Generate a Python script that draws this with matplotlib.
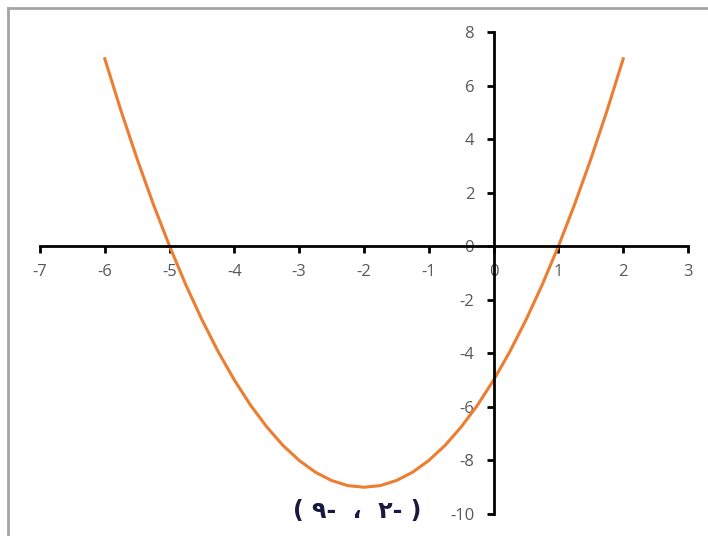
import matplotlib.pyplot as plt
from matplotlib.lines import Line2D

plt.rcParams["axes.unicode_minus"] = False

# نقاط المنحنى المقروءة من الرسم
x_vals = [-6, -5.75, -5.5, -5.25, -5, -4.75, -4.5, -4.25, -4, -3.75, -3.5, -3.25,
          -3, -2.75, -2.5, -2.25, -2, -1.75, -1.5, -1.25, -1, -0.75, -0.5, -0.25,
          0, 0.25, 0.5, 0.75, 1, 1.25, 1.5, 1.75, 2]
y_vals = [7, 5.06, 3.25, 1.56, 0, -1.44, -2.75, -3.94, -5, -5.94, -6.75, -7.44,
          -8, -8.44, -8.75, -8.94, -9, -8.94, -8.75, -8.44, -8, -7.44, -6.75, -5.94,
          -5, -3.94, -2.75, -1.44, 0, 1.56, 3.25, 5.06, 7]
x_ticks = list(range(-7, 4))
y_ticks = list(range(-10, 9, 2))
vertex_label = "( ٩-  ،  ٢- )"

fig = plt.figure(figsize=(7.08, 5.36), dpi=100)
ax = fig.add_axes([40 / 708, 1 - 514 / 536, 648 / 708, 482 / 536])

ax.plot(x_vals, y_vals, color="#ED7D31", lw=2.2)

ax.set_xlim(-7, 3)
ax.set_ylim(-10, 8)
ax.set_xticks(x_ticks)
ax.set_yticks(y_ticks)

# المحاور تمر بنقطة الأصل
ax.spines["left"].set_position(("data", 0))
ax.spines["bottom"].set_position(("data", 0))
ax.spines["right"].set_visible(False)
ax.spines["top"].set_visible(False)
for s in ("left", "bottom"):
    ax.spines[s].set_linewidth(2)
    ax.spines[s].set_color("black")

ax.tick_params(direction="out", length=5, width=2, color="black",
               labelsize=12, labelcolor="#595959")
ax.tick_params(axis="x", pad=8)
ax.tick_params(axis="y", pad=9)
for lab in ax.get_xticklabels() + ax.get_yticklabels():
    lab.set_family("Open Sans")

ax.text(-2.1, -9.9, vertex_label, fontsize=17, fontweight="bold",
        color="#1a1a40", ha="center", va="center", family="DejaVu Sans")

# إطار رمادي جزئي
fig.add_artist(Line2D([8 / 708, 8 / 708], [0, 1 - 8 / 536], color="#a6a6a6", lw=2))
fig.add_artist(Line2D([8 / 708, 1], [1 - 8 / 536, 1 - 8 / 536], color="#a6a6a6", lw=2))

fig.savefig("out.png", dpi=100)
